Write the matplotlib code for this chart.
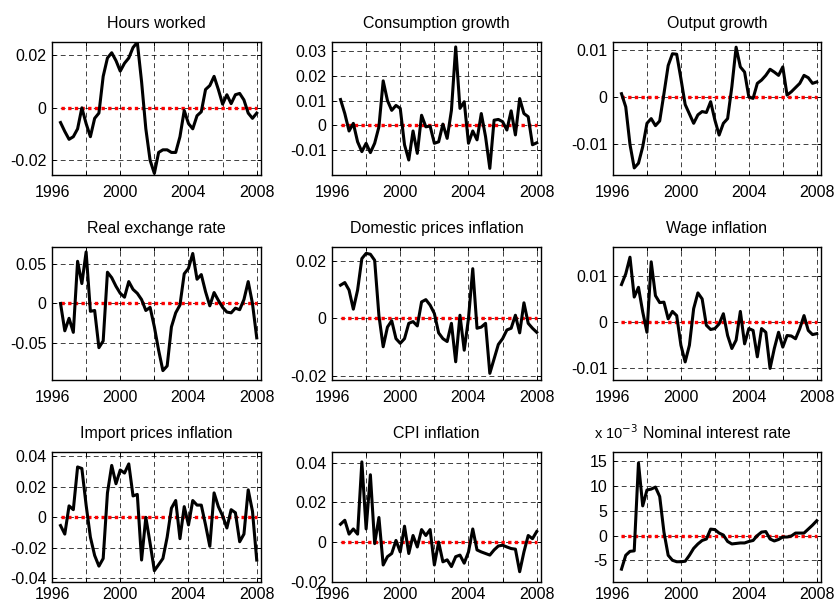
import numpy as np
import matplotlib
matplotlib.use("Agg")
import matplotlib.pyplot as plt
from matplotlib.ticker import FuncFormatter

plt.rcParams['font.family'] = ['Liberation Sans', 'DejaVu Sans']
plt.rcParams['font.size'] = 11.5
plt.rcParams['axes.unicode_minus'] = False

# quarterly dates, 1996Q3 .. 2008Q1
quarters = np.arange(1996.5, 2008.01, 0.25)

titles = ["Hours worked", "Consumption growth", "Output growth",
          "Real exchange rate", "Domestic prices inflation", "Wage inflation",
          "Import prices inflation", "CPI inflation", "Nominal interest rate"]

hours = [-0.0056, -0.009, -0.012, -0.011, -0.008, 0.000, -0.006, -0.011, -0.004, -0.002,
         0.012, 0.019, 0.021, 0.018, 0.014, 0.017, 0.019, 0.023, 0.025, 0.010,
         -0.008, -0.020, -0.025, -0.017, -0.016, -0.016, -0.017, -0.017, -0.011, -0.001,
         -0.006, -0.008, -0.003, -0.0015, 0.007, 0.0085, 0.012, 0.007, 0.0014, 0.005,
         0.0016, 0.005, 0.0055, 0.003, -0.002, -0.004, -0.002]

consumption = [0.0104, 0.0047, -0.0024, 0.0007, -0.0068, -0.0108, -0.0074, -0.0112, -0.0074, -0.0007,
               0.018, 0.010, 0.006, 0.008, 0.0068, -0.008, -0.0142, -0.0024, -0.0115, 0.004,
               -0.0007, -0.0004, -0.0074, -0.0068, 0.0004, -0.0054, 0.006, 0.0318, 0.0068, 0.0095,
               -0.0074, -0.0024, -0.006, 0.0047, -0.0047, -0.0176, 0.002, 0.0023, 0.0014, -0.002,
               0.0058, -0.004, 0.0108, 0.0047, 0.0034, -0.008, -0.0072]

output = [0.0008, -0.002, -0.010, -0.015, -0.014, -0.0105, -0.0055, -0.0045, -0.006, -0.005,
          0.0008, 0.0068, 0.0093, 0.0092, 0.004, -0.0015, -0.0035, -0.0055, -0.0037, -0.003,
          -0.0032, -0.0009, -0.0048, -0.008, -0.0055, -0.0045, 0.0023, 0.0107, 0.0065, 0.0054,
          0.0001, -0.0002, 0.003, 0.0037, 0.0047, 0.006, 0.0054, 0.0047, 0.0065, 0.0005,
          0.0012, 0.0021, 0.003, 0.0047, 0.0042, 0.003, 0.0033]

real_exchange = [0.0, -0.035, -0.019, -0.037, 0.054, 0.0255, 0.066, -0.010, -0.009, -0.0566,
                 -0.048, 0.040, 0.033, 0.022, 0.013, 0.008, 0.028, 0.018, 0.013, 0.005,
                 -0.009, -0.005, -0.030, -0.060, -0.086, -0.080, -0.030, -0.012, -0.002, 0.038,
                 0.045, 0.064, 0.031, 0.037, 0.015, -0.003, 0.014, 0.004, -0.005, -0.011,
                 -0.012, -0.006, -0.008, 0.005, 0.028, 0.0, -0.044]

domestic_infl = [0.0115, 0.0124, 0.0098, 0.0032, 0.0098, 0.0207, 0.0225, 0.0222, 0.0201, 0.001,
                 -0.0098, -0.003, -0.0008, -0.007, -0.0086, -0.007, -0.0017, -0.0011, -0.0026, 0.0057,
                 0.0065, 0.0046, 0.0017, -0.005, -0.007, -0.008, -0.0017, -0.015, 0.0011, -0.011,
                 0.0, 0.0172, -0.0034, -0.003, -0.0017, -0.019, -0.014, -0.009, -0.007, -0.004,
                 -0.0034, 0.0011, -0.005, 0.0054, -0.0017, -0.0034, -0.0048]

wage_infl = [0.0081, 0.0104, 0.014, 0.0054, 0.0075, 0.0022, -0.0022, 0.013, 0.0057, 0.0042,
             0.0043, 0.0007, 0.0023, 0.0014, -0.005, -0.0086, -0.005, 0.0029, 0.0063, 0.005,
             -0.0007, -0.0016, -0.0014, -0.0004, 0.0018, -0.0029, -0.0057, -0.0039, 0.0023, -0.0047,
             -0.0014, -0.0018, -0.0075, -0.0014, -0.0022, -0.010, -0.0057, -0.0022, -0.0054, -0.0029,
             -0.003, -0.0036, -0.0014, 0.0014, -0.0018, -0.0027, -0.0025]

import_infl = [-0.0054, -0.011, 0.0075, 0.005, 0.033, 0.032, 0.008, -0.013, -0.025, -0.032,
               -0.027, 0.016, 0.034, 0.022, 0.031, 0.029, 0.035, 0.014, 0.015, -0.028,
               0.0, -0.017, -0.035, -0.031, -0.027, -0.013, 0.006, 0.011, -0.014, 0.007,
               -0.005, 0.011, 0.008, 0.008, -0.005, -0.019, 0.016, 0.007, 0.001, -0.007,
               0.005, 0.003, -0.016, -0.011, 0.018, 0.004, -0.028]

cpi_infl = [0.009, 0.011, 0.004, 0.0066, 0.004, 0.0405, 0.0066, 0.034, -0.0008, 0.0124,
            -0.0116, -0.0074, -0.0058, 0.0008, -0.005, 0.008, -0.0058, 0.0033, -0.0025, 0.0063,
            0.0033, 0.0063, -0.0116, 0.0, -0.010, -0.009, -0.0124, -0.0074, -0.0066, -0.0107,
            -0.005, 0.0066, -0.004, -0.005, -0.0058, -0.0066, -0.004, -0.002, -0.0016, -0.0025,
            -0.0033, -0.0036, -0.015, -0.005, 0.0033, 0.0017, 0.0053]

# nominal interest rate, in units of 1e-3
interest = [-6.8, -4.0, -3.2, -3.1, 14.7, 6.0, 9.2, 9.4, 9.8, 7.9,
            0.7, -4.0, -5.0, -5.3, -5.3, -5.2, -4.0, -2.6, -1.7, -1.0,
            -0.7, 1.3, 1.2, 0.5, 0.1, -1.2, -1.7, -1.6, -1.5, -1.5,
            -1.2, -1.0, 0.0, 0.7, 0.8, -0.7, -1.1, -0.8, -0.3, -0.3,
            -0.1, 0.5, 0.5, 0.5, 1.3, 2.1, 3.0]

series = [hours, consumption, output, real_exchange, domestic_infl, wage_infl,
          import_infl, cpi_infl, interest]

ylims = [(-0.0256, 0.0251), (-0.0203, 0.0338), (-0.0165, 0.0118),
         (-0.098, 0.0723), (-0.0213, 0.0247), (-0.0125, 0.0162),
         (-0.0424, 0.0428), (-0.0202, 0.0455), (-9.4, 16.9)]

yticks = [[-0.02, 0, 0.02], [-0.01, 0, 0.01, 0.02, 0.03], [-0.01, 0, 0.01],
          [-0.05, 0, 0.05], [-0.02, 0, 0.02], [-0.01, 0, 0.01],
          [-0.04, -0.02, 0, 0.02, 0.04], [-0.02, 0, 0.02, 0.04], [-5, 0, 5, 10, 15]]

xticks = [1996, 1998, 2000, 2002, 2004, 2006, 2008]
xticklabels = ["1996", "", "2000", "", "2004", "", "2008"]

fig = plt.figure(figsize=(8.36, 6.06), dpi=100)

lefts = [52, 332, 613]
widths = [209, 209, 208]
tops = [42, 247, 452]
heights = [133, 133, 130]

for i in range(9):
    r, c = divmod(i, 3)
    W, H = 836.0, 606.0
    ax = fig.add_axes([lefts[c] / W, 1 - (tops[r] + heights[r]) / H,
                       widths[c] / W, heights[r] / H])
    ax.plot(quarters, series[i], color='black', lw=2.2, zorder=3)
    ax.plot(quarters, np.zeros(len(quarters)), color='red', lw=2.4,
            linestyle=(0, (1, 1)), zorder=2)
    ax.set_xlim(1996, 2008.25)
    ax.set_ylim(*ylims[i])
    ax.set_xticks(xticks)
    ax.set_xticklabels(xticklabels)
    ax.set_yticks(yticks[i])
    ax.yaxis.set_major_formatter(FuncFormatter(lambda v, p: "%g" % v))
    ax.grid(True, color='black', lw=0.7, linestyle=(0, (5, 3.5)), alpha=0.75)
    ax.tick_params(direction='in', top=True, right=True, length=3, width=0.7,
                   labelsize=11.5, pad=4)
    ax.tick_params(axis='x', pad=7 if r < 2 else 3.5)
    for s in ax.spines.values():
        s.set_linewidth(1.0)
    ax.set_title(titles[i], fontsize=11.5, pad=10)
    if i == 8:
        ax.text(-0.09, 1.075, "x 10$^{-3}$", transform=ax.transAxes,
                fontsize=10.5, ha='left', va='bottom')

fig.savefig("out.png", dpi=100)
